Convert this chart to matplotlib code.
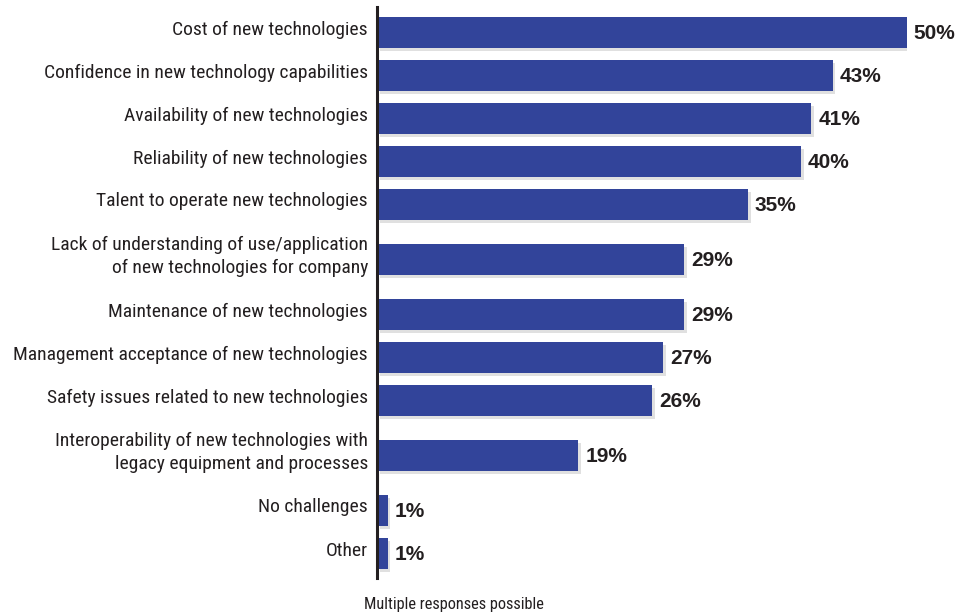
#!/usr/bin/env python3
import matplotlib
matplotlib.use("Agg")
import matplotlib.pyplot as plt
import matplotlib.patheffects as pe

# survey answers, top to bottom
labels = ["Cost of new technologies",
          "Confidence in new technology capabilities",
          "Availability of new technologies",
          "Reliability of new technologies",
          "Talent to operate new technologies",
          "Lack of understanding of use/application\nof new technologies for company",
          "Maintenance of new technologies",
          "Management acceptance of new technologies",
          "Safety issues related to new technologies",
          "Interoperability of new technologies with\nlegacy equipment and processes",
          "No challenges",
          "Other"]
pct = [50, 43, 41, 40, 35, 29, 29, 27, 26, 19, 1, 1]
note = "Multiple responses possible"

bar_col = "#32449a"
txt_col = "#231f20"
narrow = ["Roboto Condensed", "DejaVu Sans"]
bold = ["Liberation Sans", "DejaVu Sans"]

# y positions in pixel rows; two-line labels get a taller slot
slots = [43 if "\n" not in s else 67 for s in labels]
ys = []
y = 32.5
for i, s in enumerate(slots):
    if i > 0:
        y += (slots[i - 1] + s) / 2
    ys.append(y)

W, H = 965, 613
fig = plt.figure(figsize=(W / 100, H / 100), dpi=100)
x0, x1 = 377, 906.7
ytop, ybot = 7, 578
ax = fig.add_axes([x0 / W, (H - ybot) / H, (x1 - x0) / W, (ybot - ytop) / H])
ax.set_xlim(0, 50)
ax.set_ylim(ybot, ytop)

shadow = [pe.SimplePatchShadow(offset=(2.0, -2.2), shadow_rgbFace="#9a9a9a", alpha=0.3),
          pe.Normal()]
bars = ax.barh(ys, pct, height=31, color=bar_col, zorder=2)
for b in bars:
    b.set_path_effects(shadow)

for yy, v, lab in zip(ys, pct, labels):
    ax.annotate(f"{v}%", xy=(v, yy + 1), xycoords="data", xytext=(7 * 0.72, 0),
                textcoords="offset points", ha="left", va="center", fontsize=15,
                fontweight="bold", color=txt_col, family=bold, annotation_clip=False)
    ax.annotate(lab, xy=(0, yy - 3), xycoords="data", xytext=(-9 * 0.72, 0),
                textcoords="offset points", ha="right", va="center",
                ma="right", fontsize=14, color=txt_col, family=narrow,
                linespacing=1.32, annotation_clip=False)

for s in ["top", "right", "bottom"]:
    ax.spines[s].set_visible(False)
ax.spines["left"].set_linewidth(2.2)
ax.spines["left"].set_color(txt_col)
ax.spines["left"].set_zorder(3)
ax.set_xticks([])
ax.set_yticks([])

fig.text(454 / W, 1 - 604 / H, note, ha="center", va="center", fontsize=11.8,
         color=txt_col, family=narrow)

fig.savefig("out.png", dpi=100)
